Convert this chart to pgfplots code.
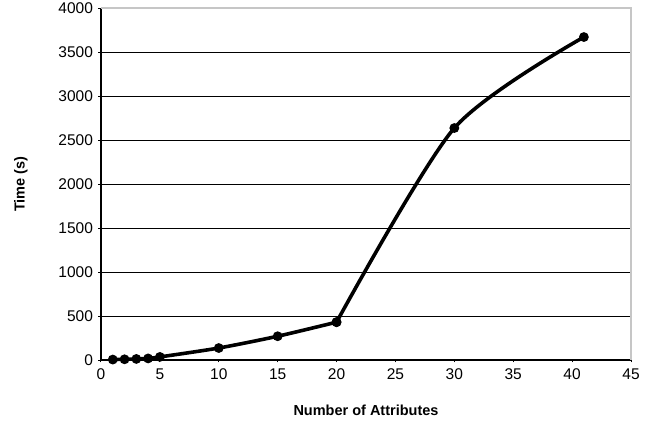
\documentclass[border=0pt]{standalone}
\usepackage{pgfplots}
\pgfplotsset{compat=1.18}
\usepackage{fontspec}
\setmainfont{Liberation Sans}

\begin{document}
\begin{tikzpicture}
\useasboundingbox (-101bp,-61bp) rectangle (555bp,360bp);
\begin{axis}[
  scale only axis, width=530bp, height=352bp,
  xmin=0, xmax=45, ymin=0, ymax=4000,
  xtick={0,5,...,45}, ytick={0,500,...,4000},
  axis x line*=bottom, axis y line*=left,
  x axis line style={line width=3pt, -},
  y axis line style={line width=3pt, -},
  ymajorgrids, grid style={black, line width=0.8pt},
  tick style={black, line width=1pt}, tick align=outside, major tick length=2.5bp,
  every tick label/.append style={font=\fontsize{15.5bp}{17bp}\selectfont},
  xticklabel style={yshift=-3bp},
  yticklabel style={xshift=-2bp},
  xticklabel={\fontsize{15.5bp}{17bp}\selectfont\pgfmathprintnumber{\tick}},
  yticklabel={\fontsize{15.5bp}{17bp}\selectfont\pgfmathprintnumber{\tick}},
  /pgf/number format/assume math mode=true,
  /pgf/number format/1000 sep={},
  xlabel={\textbf{Number of Attributes}}, ylabel={\textbf{Time (s)}},
  label style={font=\fontsize{14.5bp}{16bp}\selectfont},
  xlabel style={at={(axis description cs:0.5,0)}, anchor=center, yshift=-50bp},
  ylabel style={at={(axis description cs:0,0.5)}, anchor=center, yshift=80bp},
  clip=false,
]
\draw[gray!45, line width=2.5pt] (axis cs:0,4000) -- (axis cs:45,4000) -- (axis cs:45,0);
\addplot[black, line width=3.6pt, smooth, tension=0.4, mark=*, mark size=3pt]
  coordinates {(1,5) (2,8) (3,12) (4,18) (5,35) (10,136) (15,270) (20,430)};
\addplot[black, line width=3.6pt, smooth, tension=0.45, mark=*, mark size=3pt]
  coordinates {(20,430) (30,2636) (41,3670)};
\end{axis}
\end{tikzpicture}
\end{document}
